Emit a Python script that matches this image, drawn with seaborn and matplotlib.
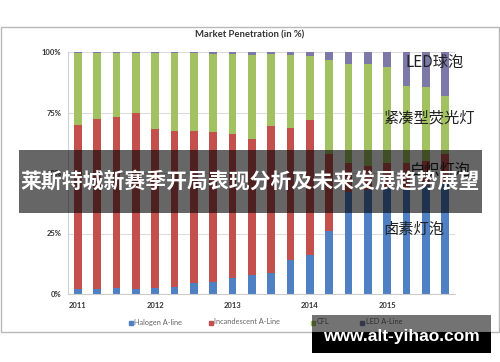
import matplotlib
matplotlib.use("Agg")
import matplotlib.pyplot as plt
import seaborn as sns
import pandas as pd
from matplotlib.patches import Rectangle

# ---- data (percent market penetration, quarterly 2011-2015) ----
quarters = ["2011Q1", "2011Q2", "2011Q3", "2011Q4",
            "2012Q1", "2012Q2", "2012Q3", "2012Q4",
            "2013Q1", "2013Q2", "2013Q3", "2013Q4",
            "2014Q1", "2014Q2", "2014Q3", "2014Q4",
            "2015Q1", "2015Q2", "2015Q3", "2015Q4"]
year_labels = ["2011", "2012", "2013", "2014", "2015"]
halogen = [2, 2, 2.5, 2, 2.5, 3, 4.5, 5, 6.5, 8, 8.5, 14, 16, 26, 42, 43, 44, 44, 45, 46]
incandescent = [68, 70.5, 70.5, 73, 65.5, 64.5, 63, 62, 59.5, 56, 61, 54.5, 56, 32, 12, 10, 10, 10, 10, 12]
cfl = [29.7, 27.2, 26.6, 24.6, 31.5, 32, 31.9, 32.3, 33, 34.8, 29.7, 30.3, 26.4, 38.5, 41.2, 42.2, 40, 32, 30.5, 24]
led = [0.3, 0.3, 0.4, 0.4, 0.5, 0.5, 0.6, 0.7, 1, 1.2, 0.8, 1.2, 1.6, 3.5, 4.8, 4.8, 6, 14, 14.5, 18]
series_names = ["Halogen A-line", "Incandescent A-Line", "CFL", "LED A-Line"]
colors = ["#4f80c4", "#c4504e", "#a2c262", "#7c79a9"]

title = "Market Penetration (in %)"
cn_labels = ["LED球泡", "紧凑型荧光灯", "白炽灯泡", "卤素灯泡"]
banner_text = "莱斯特城新赛季开局表现分析及未来发展趋势展望"
watermark = "www.alt-yihao.com"

df = pd.DataFrame({"quarter": quarters, "hal": halogen, "inc": incandescent,
                   "cfl": cfl, "led": led})
df["s1"] = df["hal"]
df["s2"] = df["s1"] + df["inc"]
df["s3"] = df["s2"] + df["cfl"]
df["s4"] = df["s3"] + df["led"]

sns.set_style("white")
plt.rcParams["font.family"] = ["Lato", "Noto Sans CJK SC", "DejaVu Sans"]

W, H = 500, 362
fig = plt.figure(figsize=(5, 3.62), dpi=100)
fig.patch.set_facecolor("white")

def fx(px):
    return px / W

def fy(py):
    return 1 - py / H

# outer chart frame
fig.patches.append(Rectangle((fx(1), fy(332)), fx(498), (332 - 27) / H,
                             transform=fig.transFigure, fill=False,
                             edgecolor="#b8b8b8", lw=1.0, zorder=0))

ax = fig.add_axes([fx(68.3), fy(294), fx(454.7) - fx(68.3), fy(52) - fy(294)])
ax.set_facecolor("none")

for col, c in [("s4", colors[3]), ("s3", colors[2]), ("s2", colors[1]), ("s1", colors[0])]:
    sns.barplot(data=df, x="quarter", y=col, order=quarters, color=c,
                saturation=1, width=0.4, linewidth=0, ax=ax)

ax.set_xlim(-0.5, 19.5)
ax.set_ylim(0, 100)
ax.set_xlabel("")
ax.set_ylabel("")
ax.set_yticks([0, 25, 50, 75, 100])
ax.set_yticklabels(["0%", "25%", "50%", "75%", "100%"], fontsize=5.5,
                   fontweight="bold", color="#333333")
ax.set_xticks([0, 4, 8, 12, 16])
ax.set_xticklabels(year_labels, fontsize=5.5, fontweight="bold", color="#333333")
ax.tick_params(axis="y", length=0, pad=5)
ax.tick_params(axis="x", length=0, pad=6)
ax.yaxis.grid(True, color="#dcdcdc", lw=0.8)
ax.set_axisbelow(True)
for s in ["top", "right"]:
    ax.spines[s].set_visible(False)
ax.spines["left"].set_color("#c9d1dc")
ax.spines["bottom"].set_color("#cccccc")
ax.spines["left"].set_linewidth(0.8)
ax.spines["bottom"].set_linewidth(0.8)

fig.text(0.5, fy(35), title, ha="center", va="center", fontsize=6.8,
         fontweight="bold", color="#333333")

# legend
leg_pos = [131, 211, 313, 362]
for name, c, px in zip(series_names, colors, leg_pos):
    fig.patches.append(Rectangle((fx(px - 2), fy(324.5)), fx(4), 4 / H,
                                 transform=fig.transFigure, color=c, zorder=3))
    fig.text(fx(px + 3.5), fy(322), name, ha="left", va="center", fontsize=5.3,
             color="#666666")

# chinese annotation labels
cn_pos = [(435, 62), (430, 118), (440, 170), (414, 229)]
for t, (px, py) in zip(cn_labels, cn_pos):
    fig.text(fx(px), fy(py), t, ha="center", va="center", fontsize=11,
             family=["Noto Sans CJK SC", "DejaVu Sans"], color="#222222")

# banner overlay
fig.patches.append(Rectangle((fx(19), fy(213)), fx(463), 63 / H,
                             transform=fig.transFigure, color="black",
                             alpha=0.6, lw=0, zorder=10))
fig.text(0.5, fy(182), banner_text, ha="center", va="center", fontsize=15,
         fontweight="bold", color="white",
         family=["Noto Sans CJK SC", "DejaVu Sans"], zorder=11)

# watermark box
fig.patches.append(Rectangle((fx(312), fy(332)), fx(179), 17 / H,
                             transform=fig.transFigure, color="black",
                             alpha=0.55, lw=0, zorder=10))
fig.patches.append(Rectangle((fx(312), fy(353)), fx(179), 21 / H,
                             transform=fig.transFigure, color="black",
                             lw=0, zorder=10))
fig.text(fx(401), fy(336), watermark, ha="center", va="center", fontsize=12.5,
         fontweight="bold", color="white",
         family=["Liberation Sans", "DejaVu Sans"], zorder=11)

fig.savefig("out.png", dpi=100, facecolor="white")
